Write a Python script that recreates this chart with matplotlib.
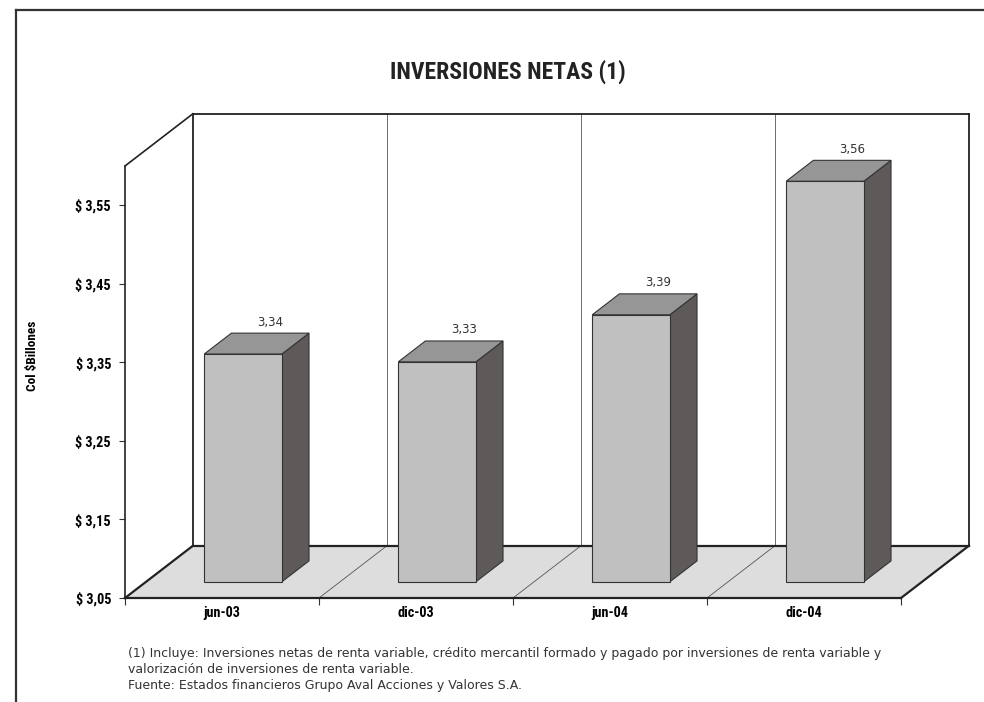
import matplotlib.pyplot as plt
from matplotlib import font_manager
from matplotlib.patches import Polygon
from matplotlib.lines import Line2D


categories = ["jun-03", "dic-03", "jun-04", "dic-04"]
values = [3.34, 3.33, 3.39, 3.56]
value_labels = ["3,34", "3,33", "3,39", "3,56"]
y_ticks = [3.05, 3.15, 3.25, 3.35, 3.45, 3.55]
y_tick_labels = ["$ 3,05", "$ 3,15", "$ 3,25", "$ 3,35", "$ 3,45", "$ 3,55"]
y_min = 3.05
y_max = 3.60

title = "INVERSIONES NETAS (1)"
y_label = "Col $Billones"
footnote = ["(1) Incluye: Inversiones netas de renta variable, crédito mercantil formado y pagado por inversiones de renta variable y",
            "valorización de inversiones de renta variable.",
            "Fuente: Estados financieros Grupo Aval Acciones y Valores S.A."]

# depth of the 3d box, in category units and value units
depth_x = 0.35
depth_y = 0.0665
# bar placement inside one category slot and inside the depth
bar_width = 0.4
bar_d0 = 0.31
bar_d1 = 0.71

W, H = 984, 702


def pick_narrow_font():
    """look for an installed condensed sans, else fall back on Liberation Sans."""
    list_entries = font_manager.fontManager.ttflist
    names = set(crrt.name for crrt in list_entries)
    for crrt_name in ["Liberation Sans Narrow", "Roboto Condensed", "Open Sans Condensed",
                      "DejaVu Sans Condensed", "Noto Sans Condensed"]:
        if crrt_name in names:
            return [crrt_name, "DejaVu Sans"], "normal", 1.0
    for crrt in list_entries:
        if crrt.name in ["Liberation Sans", "DejaVu Sans", "Noto Sans", "Roboto", "Open Sans"] \
                and str(crrt.stretch) in ["condensed", "semi-condensed", "extra-condensed", "500", "300", "400"] \
                and crrt.stretch != "normal" and crrt.stretch != 500:
            return [crrt.name, "DejaVu Sans"], crrt.stretch, 1.0
    return ["Liberation Sans", "DejaVu Sans"], "normal", 0.88


narrow, narrow_stretch, size_fac = pick_narrow_font()
round_font = ["DejaVu Sans"]


def proj(x, y, d):
    """project a point (category x, value y, depth d) onto the front plane."""
    return (x + d * depth_x, y + d * depth_y)


def add_poly(ax, pts, face, edge="#333333", lw=0.8, z=2):
    poly = Polygon([proj(*p) for p in pts], closed=True, facecolor=face,
                   edgecolor=edge, linewidth=lw, zorder=z, clip_on=False,
                   joinstyle="miter")
    ax.add_patch(poly)


def add_line(ax, p0, p1, color="#222222", lw=1.2, z=3):
    a = proj(*p0)
    b = proj(*p1)
    ax.plot([a[0], b[0]], [a[1], b[1]], color=color, linewidth=lw,
            zorder=z, clip_on=False, solid_capstyle="projecting")


fig = plt.figure(figsize=(W / 100, H / 100), dpi=100)
ax = fig.add_axes([125 / W, (H - 598) / H, (901 - 125) / W, (598 - 166) / H])
n_cat = len(categories)
ax.set_xlim(0, n_cat)
ax.set_ylim(y_min, y_max)

# floor
add_poly(ax, [(0, y_min, 0), (n_cat, y_min, 0), (n_cat, y_min, 1), (0, y_min, 1)],
         face="#dddddd", edge="none", z=0)

# back wall dividers and floor dividers
for crrt_cat in range(1, n_cat):
    add_line(ax, (crrt_cat, y_min, 1), (crrt_cat, y_max, 1), color="#555555", lw=0.6, z=1)
    add_line(ax, (crrt_cat, y_min, 0), (crrt_cat, y_min, 1), color="#555555", lw=0.6, z=1)

# back wall edges
add_line(ax, (0, y_max, 1), (n_cat, y_max, 1), lw=1.3)
add_line(ax, (0, y_min, 1), (0, y_max, 1), lw=1.3)
add_line(ax, (n_cat, y_min, 1), (n_cat, y_max, 1), lw=1.3)
add_line(ax, (0, y_min, 1), (n_cat, y_min, 1), lw=1.6)
# side wall and floor edges
add_line(ax, (0, y_max, 0), (0, y_max, 1), lw=1.2)
add_line(ax, (0, y_min, 0), (0, y_min, 1), lw=1.6)
add_line(ax, (n_cat, y_min, 0), (n_cat, y_min, 1), lw=1.6)

# bars
for crrt_ind, crrt_val in enumerate(values):
    x0 = crrt_ind + 0.5 - bar_width / 2
    x1 = crrt_ind + 0.5 + bar_width / 2
    add_poly(ax, [(x1, y_min, bar_d0), (x1, y_min, bar_d1), (x1, crrt_val, bar_d1), (x1, crrt_val, bar_d0)],
             face="#5e5a5a", z=4)
    add_poly(ax, [(x0, crrt_val, bar_d0), (x1, crrt_val, bar_d0), (x1, crrt_val, bar_d1), (x0, crrt_val, bar_d1)],
             face="#969696", z=4)
    add_poly(ax, [(x0, y_min, bar_d0), (x1, y_min, bar_d0), (x1, crrt_val, bar_d0), (x0, crrt_val, bar_d0)],
             face="#c0c0c0", z=5)
    ax.annotate(value_labels[crrt_ind], xy=proj(crrt_ind + 0.5, crrt_val, bar_d1),
                xytext=(0, 8), textcoords="offset points", ha="center", va="center",
                fontsize=8.5, family=round_font, color="#333333", annotation_clip=False)

# axes: front axis line and front floor edge
for crrt_side in ["top", "right"]:
    ax.spines[crrt_side].set_visible(False)
ax.spines["left"].set_linewidth(1.2)
ax.spines["left"].set_color("#222222")
ax.spines["bottom"].set_linewidth(1.6)
ax.spines["bottom"].set_color("#222222")
ax.set_facecolor("none")

tick_font = dict(fontsize=10.3 * size_fac, fontweight="bold", family=narrow, fontstretch=narrow_stretch)

ax.set_yticks(y_ticks)
ax.set_yticklabels(y_tick_labels, **tick_font)
ax.tick_params(axis="y", length=4, width=0.8, color="#333333", pad=6)

ax.set_xticks(range(n_cat + 1))
ax.set_xticklabels([""] * (n_cat + 1))
ax.set_xticks([crrt + 0.5 for crrt in range(n_cat)], minor=True)
ax.set_xticklabels(categories, minor=True, **tick_font)
ax.tick_params(axis="x", which="major", length=5, width=0.8, color="#333333")
ax.tick_params(axis="x", which="minor", length=0, pad=6)

ax.set_ylabel(y_label, fontsize=9.5 * size_fac, fontweight="bold", family=narrow, fontstretch=narrow_stretch)
ax.yaxis.set_label_coords((39 - 125) / (901 - 125), (597 - 355) / (597 - 166))

# title, frame and notes
fig.text(508 / W, 1 - 72 / H, title, ha="center", va="center", color="#222222",
         fontsize=17 * size_fac, fontweight="bold", family=narrow, fontstretch=narrow_stretch)

fig.add_artist(Line2D([16 / W, 16 / W], [0, 1 - 10 / H], color="#333333", linewidth=1.6))
fig.add_artist(Line2D([16 / W, 1], [1 - 10 / H, 1 - 10 / H], color="#333333", linewidth=1.6))

for crrt_ind, crrt_line in enumerate(footnote):
    fig.text(128 / W, 1 - (654 + 15.5 * crrt_ind) / H, crrt_line, ha="left", va="center",
             fontsize=9.0, family=round_font, color="#333333")

fig.savefig("out.png", dpi=100)
